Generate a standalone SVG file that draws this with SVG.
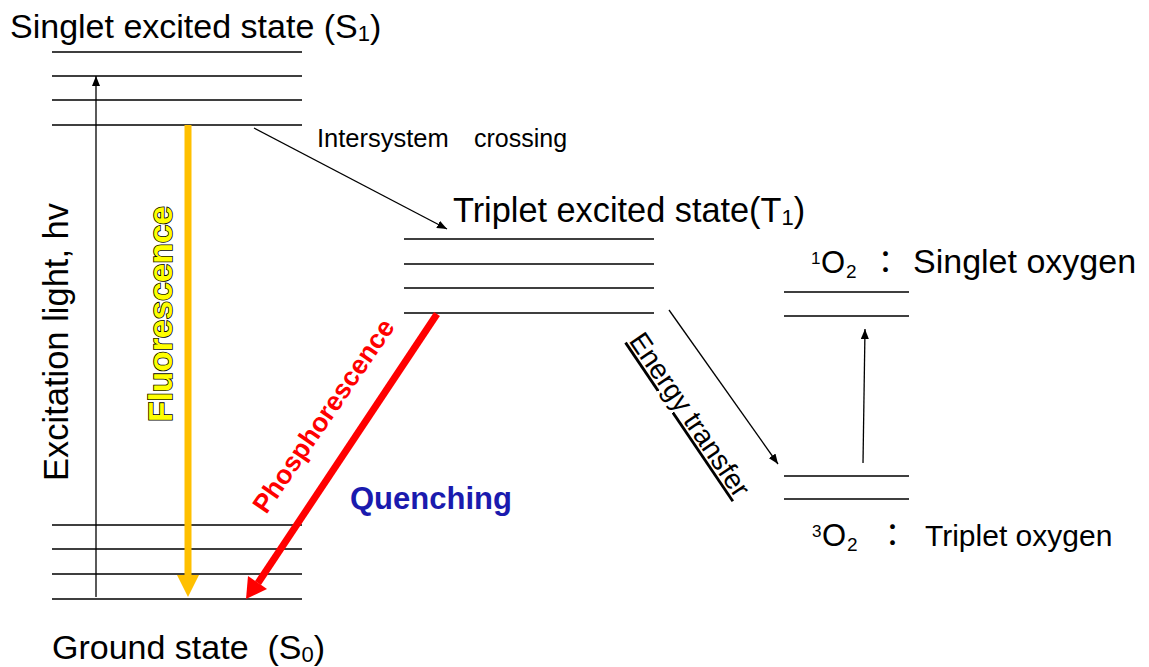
<svg xmlns="http://www.w3.org/2000/svg" width="1149" height="667" viewBox="0 0 1149 667">
<defs>
<marker id="ah" viewBox="0 0 10 8" refX="10" refY="4" markerWidth="10" markerHeight="8" markerUnits="userSpaceOnUse" orient="auto"><path d="M0,0 L10,4 L0,8 z" fill="#000"/></marker>
</defs>
<style>
.lv{stroke:#000;stroke-width:1.5;fill:none}
.t{font-family:"Liberation Sans",Arial,"Noto Sans CJK JP",sans-serif;fill:#000}
.b{font-weight:bold}
.thin{stroke:#000;stroke-width:1.3;fill:none;marker-end:url(#ah)}
</style>
<rect width="1149" height="667" fill="#fff"/>

<g id="s1">
<path class="lv" d="M52,52H302M52,76H302M52,100H302M52,125H302"/>
<text class="t" x="10" y="38" font-size="34">Singlet excited state (S<tspan font-size="22" dy="3">1</tspan><tspan dy="-3">)</tspan></text>
</g>

<g id="s0">
<path class="lv" d="M52,525H302M52,549H302M52,574H302M52,599H302"/>
<text class="t" x="52" y="659" font-size="34" xml:space="preserve">Ground state  (S<tspan font-size="22" dy="3">0</tspan><tspan dy="-3">)</tspan></text>
</g>

<g id="t1">
<path class="lv" d="M404,239H654M404,264H654M404,288H654M404,313H654"/>
<text class="t" x="453" y="222" font-size="34.3">Triplet excited state(T<tspan font-size="22" dy="3">1</tspan><tspan dy="-3">)</tspan></text>
</g>

<g id="o2singlet">
<path class="lv" d="M784,292H909M784,316H909"/>
<text class="t" x="811" y="264" font-size="17">1</text>
<text class="t" x="821" y="273" font-size="31">O</text>
<text class="t" x="846" y="278" font-size="19">2</text>
<text class="t" x="870" y="273" font-size="31">：</text>
<text class="t" x="913" y="273" font-size="34">Singlet oxygen</text>
</g>

<g id="o2triplet">
<path class="lv" d="M784,476H909M784,499H909"/>
<text class="t" x="812" y="537" font-size="17">3</text>
<text class="t" x="822" y="546" font-size="31">O</text>
<text class="t" x="847" y="551" font-size="19">2</text>
<text class="t" x="877" y="546" font-size="31">：</text>
<text class="t" x="925" y="546" font-size="30">Triplet oxygen</text>
</g>

<g id="connectors">
<line class="thin" x1="96" y1="597" x2="96" y2="76"/>
<text class="t" transform="translate(68,342) rotate(-90)" text-anchor="middle" font-size="34.5">Excitation light, hv</text>

<line x1="188" y1="125" x2="188" y2="576" stroke="#FFC000" stroke-width="7"/>
<polygon points="177,575 199,575 188,597" fill="#FFC000"/>
<text class="t b" transform="translate(172,314) rotate(-90)" text-anchor="middle" font-size="33.5" style="fill:#FFFF00;stroke:#000;stroke-width:1.6;paint-order:stroke">Fluorescence</text>

<line class="thin" x1="254" y1="128" x2="447" y2="229"/>
<text class="t" x="317" y="147" font-size="25.5">Intersystem</text>
<text class="t" x="474" y="147" font-size="25">crossing</text>

<line x1="437" y1="314" x2="258" y2="583" stroke="#FF0000" stroke-width="7"/>
<polygon points="246,599 248,576 267,589" fill="#FF0000"/>
<text class="t b" transform="translate(331,421) rotate(-55.5)" text-anchor="middle" font-size="26.5" style="fill:#FF0000">Phosphorescence</text>

<text class="t b" x="350" y="509" font-size="31" style="fill:#1A1AAE">Quenching</text>

<line class="thin" x1="669" y1="310" x2="778" y2="464"/>
<text class="t" transform="translate(682,420) rotate(55.9)" text-anchor="middle" font-size="28" text-decoration="underline">Energy transfer</text>

<line class="thin" x1="863" y1="463" x2="865" y2="329"/>
</g>
</svg>
